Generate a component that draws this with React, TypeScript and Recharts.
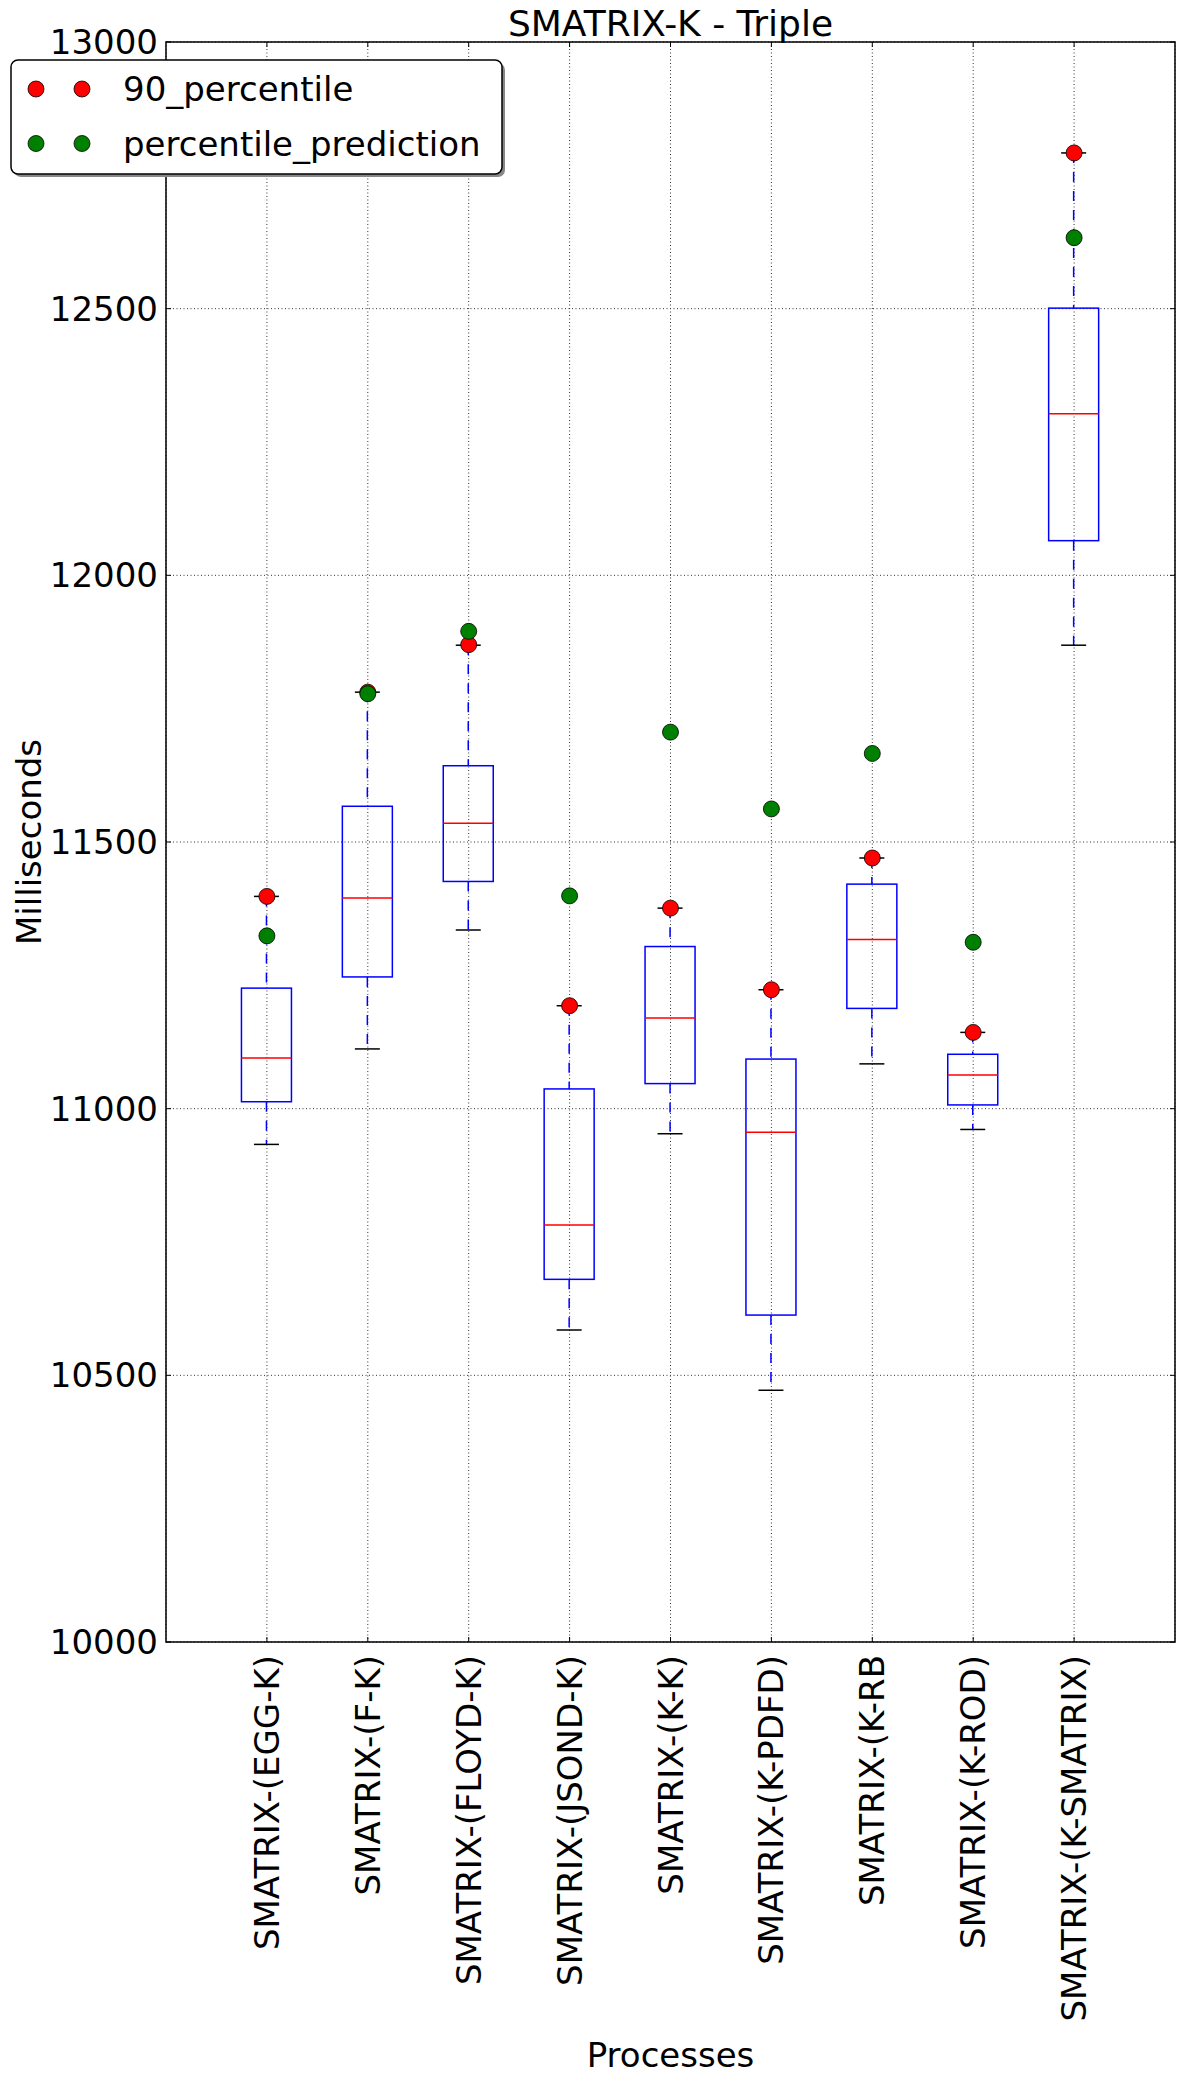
import React from 'react'
import { ComposedChart, Bar, Scatter, XAxis, YAxis, CartesianGrid, ReferenceArea } from 'recharts'

const processes = [
  'SMATRIX-(EGG-K)',
  'SMATRIX-(F-K)',
  'SMATRIX-(FLOYD-K)',
  'SMATRIX-(JSOND-K)',
  'SMATRIX-(K-K)',
  'SMATRIX-(K-PDFD)',
  'SMATRIX-(K-RB',
  'SMATRIX-(K-ROD)',
  'SMATRIX-(K-SMATRIX)',
]
const positions = [1, 2, 3, 4, 5, 6, 7, 8, 9]

const whiskerLow = [10933, 11112, 11335, 10585, 10953, 10472, 11084, 10961, 11869]
const q1 = [11013, 11247, 11426, 10680, 11047, 10613, 11188, 11007, 12065]
const median = [11095, 11395, 11535, 10782, 11170, 10956, 11317, 11063, 12303]
const q3 = [11226, 11567, 11643, 11037, 11304, 11093, 11421, 11102, 12501]
const whiskerHigh = [11398, 11781, 11869, 11193, 11376, 11223, 11470, 11143, 12792]

const percentile90 = [11398, 11781, 11870, 11193, 11376, 11223, 11470, 11143, 12792]
const percentilePrediction = [11324, 11778, 11895, 11399, 11706, 11562, 11666, 11312, 12633]

const yTicks = [10000, 10500, 11000, 11500, 12000, 12500, 13000]

const W = 1184
const H = 2084
const PLOT_LEFT = 166
const PLOT_RIGHT = 1175
const PLOT_TOP = 42
const PLOT_BOTTOM = 1642
const FONT = "'DejaVu Sans', sans-serif"
const DOT_R = 8

const rows = processes.map((name, i) => ({
  name,
  pos: positions[i],
  range: [whiskerLow[i], whiskerHigh[i]],
  low: whiskerLow[i],
  q1: q1[i],
  median: median[i],
  q3: q3[i],
  high: whiskerHigh[i],
  p90: percentile90[i],
  prediction: percentilePrediction[i],
}))

// one range bar per process (low..high), inner parts placed on the same linear scale
function BoxShape(props: any) {
  const { x, y, width, height, payload } = props
  if (x == null || y == null) return null
  const top = Math.min(y, y + height)
  const h = Math.abs(height)
  const { low, high } = payload
  const toY = (v: number) => top + ((high - v) / (high - low)) * h
  const cx = x + width / 2
  const capHalf = width / 4
  const yQ1 = toY(payload.q1)
  const yQ3 = toY(payload.q3)
  const yMed = toY(payload.median)
  const yLow = top + h
  return (
    <g>
      <line x1={cx} x2={cx} y1={top} y2={yQ3} stroke="#0000ff" strokeWidth={1.5} strokeDasharray="10 9" />
      <line x1={cx} x2={cx} y1={yQ1} y2={yLow} stroke="#0000ff" strokeWidth={1.5} strokeDasharray="10 9" />
      <line x1={cx - capHalf} x2={cx + capHalf} y1={top} y2={top} stroke="#000" strokeWidth={1.5} />
      <line x1={cx - capHalf} x2={cx + capHalf} y1={yLow} y2={yLow} stroke="#000" strokeWidth={1.5} />
      <rect x={x} y={yQ3} width={width} height={yQ1 - yQ3} fill="none" stroke="#0000ff" strokeWidth={1.5} />
      <line x1={x} x2={x + width} y1={yMed} y2={yMed} stroke="#ff0000" strokeWidth={1.5} />
    </g>
  )
}

function Dot(color: string) {
  return (p: any) => <circle cx={p.cx} cy={p.cy} r={DOT_R} fill={color} stroke="#000" strokeWidth={0.8} />
}

function YTick(props: any) {
  const { x, y, payload } = props
  return (
    <g>
      <line x1={PLOT_LEFT} x2={PLOT_LEFT + 5} y1={y} y2={y} stroke="#000" strokeWidth={1} />
      <line x1={PLOT_RIGHT - 5} x2={PLOT_RIGHT} y1={y} y2={y} stroke="#000" strokeWidth={1} />
      <text x={x} y={y} textAnchor="end" dominantBaseline="central" fontSize={34} fontFamily={FONT} fill="#000">
        {payload.value}
      </text>
    </g>
  )
}

function XTick(props: any) {
  const { x, y, payload } = props
  const label = processes[positions.indexOf(payload.value)]
  return (
    <g>
      <line x1={x} x2={x} y1={PLOT_BOTTOM} y2={PLOT_BOTTOM - 5} stroke="#000" strokeWidth={1} />
      <line x1={x} x2={x} y1={PLOT_TOP} y2={PLOT_TOP + 5} stroke="#000" strokeWidth={1} />
      <text
        x={x}
        y={y}
        transform={`rotate(-90 ${x} ${y})`}
        textAnchor="end"
        dominantBaseline="central"
        fontSize={34}
        fontFamily={FONT}
        fill="#000"
      >
        {label}
      </text>
    </g>
  )
}

export default function App() {
  return (
    <div style={{ position: 'absolute', left: 0, top: 0, width: W, height: H, background: '#fff' }}>
      <ComposedChart width={W} height={H} data={rows} margin={{ top: PLOT_TOP, right: W - PLOT_RIGHT, bottom: 0, left: 0 }}>
        <CartesianGrid stroke="#333" strokeWidth={1} strokeDasharray="1 2.5" />
        <XAxis
          type="number"
          dataKey="pos"
          domain={[0, 10]}
          ticks={positions}
          interval={0}
          height={H - PLOT_BOTTOM}
          tick={XTick}
          tickLine={false}
          axisLine={false}
          tickSize={0}
          tickMargin={13}
        />
        <YAxis
          type="number"
          domain={[10000, 13000]}
          ticks={yTicks}
          interval={0}
          width={PLOT_LEFT}
          tick={YTick}
          tickLine={false}
          axisLine={false}
          tickSize={0}
          tickMargin={8}
        />
        <Bar dataKey="range" barSize={50} shape={BoxShape} isAnimationActive={false} />
        <Scatter dataKey="p90" shape={Dot('#ff0000')} isAnimationActive={false} />
        <Scatter dataKey="prediction" shape={Dot('#008000')} isAnimationActive={false} />
        <ReferenceArea x1={0} x2={10} y1={10000} y2={13000} fill="none" fillOpacity={0} stroke="#000" strokeWidth={1.5} ifOverflow="visible" />
      </ComposedChart>

      <svg width={W} height={H} style={{ position: 'absolute', left: 0, top: 0, pointerEvents: 'none' }}>
        <text x={(PLOT_LEFT + PLOT_RIGHT) / 2} y={36} textAnchor="middle" fontSize={36} fontFamily={FONT} fill="#000">
          SMATRIX-K - Triple
        </text>
        <text x={(PLOT_LEFT + PLOT_RIGHT) / 2} y={2067} textAnchor="middle" fontSize={34} fontFamily={FONT} fill="#000">
          Processes
        </text>
        <text
          x={29}
          y={842}
          transform="rotate(-90 29 842)"
          textAnchor="middle"
          dominantBaseline="central"
          fontSize={34}
          fontFamily={FONT}
          fill="#000"
        >
          Milliseconds
        </text>

        {/* legend */}
        <rect x={14} y={63} width={491} height={114} rx={7} fill="#888" />
        <rect x={11} y={60} width={491} height={114} rx={7} fill="#fff" stroke="#000" strokeWidth={1.5} />
        <circle cx={36} cy={89} r={DOT_R} fill="#ff0000" stroke="#000" strokeWidth={0.8} />
        <circle cx={82} cy={89} r={DOT_R} fill="#ff0000" stroke="#000" strokeWidth={0.8} />
        <text x={123} y={89} dominantBaseline="central" fontSize={34} fontFamily={FONT} fill="#000">
          90_percentile
        </text>
        <circle cx={36} cy={143.5} r={DOT_R} fill="#008000" stroke="#000" strokeWidth={0.8} />
        <circle cx={82} cy={143.5} r={DOT_R} fill="#008000" stroke="#000" strokeWidth={0.8} />
        <text x={123} y={143.5} dominantBaseline="central" fontSize={34} fontFamily={FONT} fill="#000">
          percentile_prediction
        </text>
      </svg>
    </div>
  )
}
